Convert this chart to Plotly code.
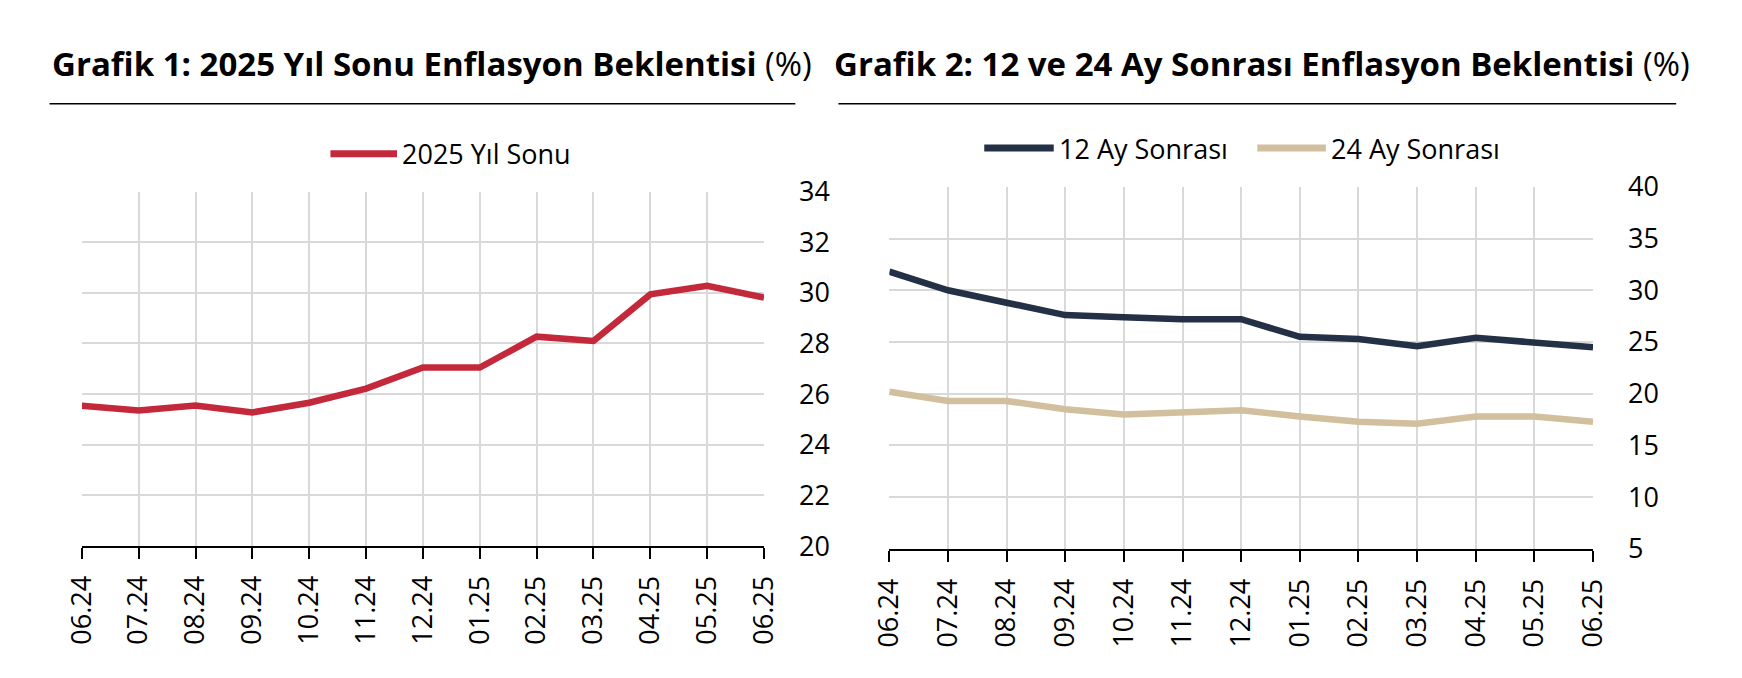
import plotly.graph_objects as go

# data
months = ["06.24", "07.24", "08.24", "09.24", "10.24", "11.24", "12.24",
          "01.25", "02.25", "03.25", "04.25", "05.25", "06.25"]
yil_sonu_2025 = [25.54, 25.35, 25.55, 25.28, 25.66, 26.22, 27.05,
                 27.05, 28.27, 28.10, 29.94, 30.28, 29.81]
ay12_sonrasi = [31.8, 30.0, 28.8, 27.6, 27.4, 27.2, 27.2,
                25.5, 25.3, 24.6, 25.4, 25.0, 24.5]
ay24_sonrasi = [20.2, 19.3, 19.3, 18.5, 18.0, 18.2, 18.4,
                17.8, 17.3, 17.1, 17.8, 17.8, 17.3]

W, H = 1742, 678
FONT = "Open Sans"
RED, NAVY, TAN = "#C3283B", "#233045", "#D1BF9E"
GRID = "#D9D9D9"


def px(x):
    return x / W


def py(y):
    return 1 - y / H


fig = go.Figure()
fig.add_trace(go.Scatter(x=months, y=yil_sonu_2025, name="2025 Yıl Sonu",
                         mode="lines", line=dict(color=RED, width=6.5),
                         xaxis="x", yaxis="y"))
fig.add_trace(go.Scatter(x=months, y=ay12_sonrasi, name="12 Ay Sonrası",
                         mode="lines", line=dict(color=NAVY, width=6.5),
                         xaxis="x2", yaxis="y2"))
fig.add_trace(go.Scatter(x=months, y=ay24_sonrasi, name="24 Ay Sonrası",
                         mode="lines", line=dict(color=TAN, width=6.5),
                         xaxis="x2", yaxis="y2"))

xax = dict(type="category", range=[0, 12], showgrid=True, gridcolor=GRID,
           gridwidth=1.5, showline=True, linecolor="black", linewidth=2,
           ticks="outside", ticklen=11, tickwidth=2, tickcolor="black",
           tickangle=-90, ticklabelstandoff=6, zeroline=False,
           tickfont=dict(size=27, color="black"))
yax = dict(side="right", showgrid=True, gridcolor=GRID, gridwidth=1.5,
           showline=False, zeroline=False, ticks="", ticklabelstandoff=34,
           tickfont=dict(size=27, color="black"))

fig.update_layout(
    width=W, height=H,
    margin=dict(l=0, r=0, t=0, b=0),
    paper_bgcolor="white", plot_bgcolor="white",
    font=dict(family=FONT, color="black"),
    showlegend=False,
    xaxis=dict(xax, domain=[px(55), px(752)], anchor="y"),
    yaxis=dict(yax, domain=[py(548), py(173)], range=[20, 34], dtick=2,
               anchor="x"),
    xaxis2=dict(xax, domain=[px(880), px(1599)], anchor="y2"),
    yaxis2=dict(yax, domain=[py(551), py(168)], range=[5, 40], dtick=5,
                anchor="x2"),
)

# titles and rules
titles = [(22, "<b>Grafik 1: 2025 Yıl Sonu Enflasyon Beklentisi</b> (%)"),
          (821, "<b>Grafik 2: 12 ve 24 Ay Sonrası Enflasyon Beklentisi</b> (%)")]
for x0, t in titles:
    fig.add_annotation(text=t, x=px(x0), y=py(38), xref="paper", yref="paper",
                       xanchor="left", yanchor="middle", showarrow=False,
                       font=dict(size=33, family=FONT, color="black"))
for x0, x1 in [(22, 784), (828, 1684)]:
    fig.add_shape(type="line", xref="paper", yref="paper",
                  x0=px(x0), x1=px(x1), y0=py(80), y1=py(80),
                  line=dict(color="black", width=1.5))

# legends
legend_items = [(309, 377, 133, RED, "2025 Yıl Sonu"),
                (977, 1048, 127, NAVY, "12 Ay Sonrası"),
                (1256, 1326, 127, TAN, "24 Ay Sonrası")]
for x0, x1, y, c, name in legend_items:
    fig.add_shape(type="line", xref="paper", yref="paper",
                  x0=px(x0), x1=px(x1), y0=py(y), y1=py(y),
                  line=dict(color=c, width=7))
    fig.add_annotation(text=name, x=px(x1 + 3), y=py(y), xref="paper",
                       yref="paper", xanchor="left", yanchor="middle",
                       showarrow=False,
                       font=dict(size=27, family=FONT, color="black"))

fig.write_html("out.html")
